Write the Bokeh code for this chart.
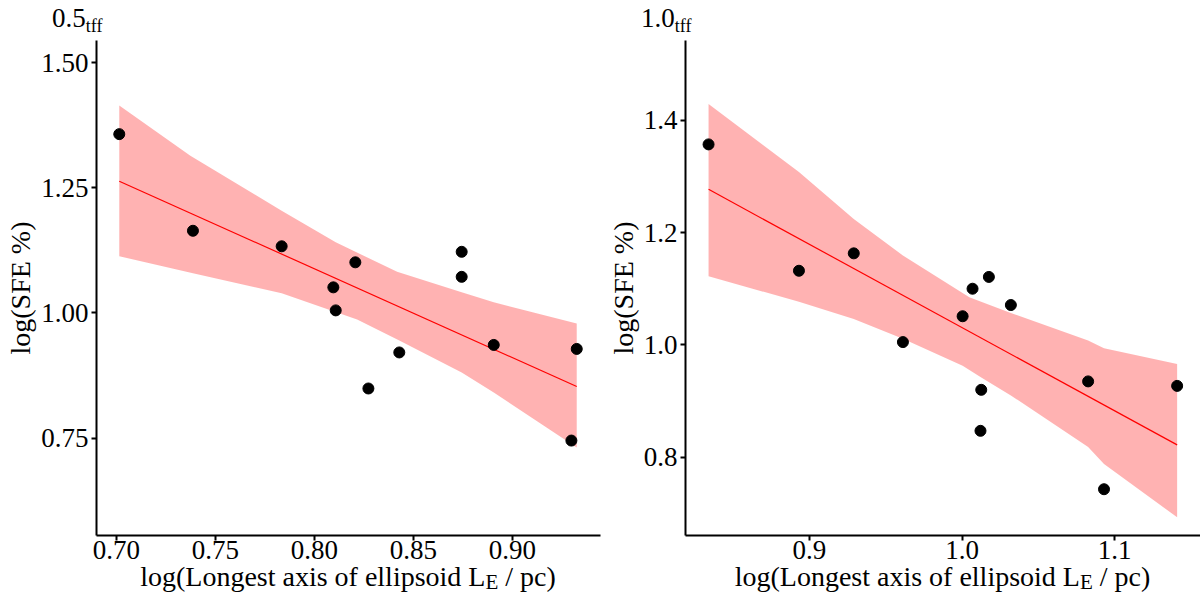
from bokeh.plotting import figure
from bokeh.models import Range1d, FixedTicker, PrintfTickFormatter, Div
from bokeh.layouts import row, column
from bokeh.embed import file_html
from bokeh.resources import INLINE

# ---------------- data ----------------
titles = ["0.5", "1.0"]
title_sub = "tff"
x_label_main = "log(Longest axis of ellipsoid L"
x_label_sub = "E"
x_label_tail = " / pc)"
y_label = "log(SFE %)"

# left panel (0.5 tff)
left_x = [0.7015, 0.7387, 0.7835, 0.8207, 0.8096, 0.8108, 0.8273, 0.8429, 0.8744, 0.8744, 0.8906, 0.9325, 0.9298]
left_y = [1.357, 1.164, 1.133, 1.101, 1.051, 1.005, 0.849, 0.921, 1.122, 1.072, 0.936, 0.928, 0.745]
left_fit_x = [0.7015, 0.9325]
left_fit_y = [1.263, 0.853]
left_up_x = [0.7015, 0.7374, 0.7835, 0.8108, 0.8418, 0.8744, 0.8906, 0.9325]
left_up_y = [1.414, 1.314, 1.204, 1.141, 1.082, 1.041, 1.021, 0.979]
left_lo_x = [0.7015, 0.7387, 0.7835, 0.8216, 0.8429, 0.8744, 0.8906, 0.9325]
left_lo_y = [1.113, 1.079, 1.039, 0.987, 0.945, 0.881, 0.841, 0.731]
left_xticks = [0.70, 0.75, 0.80, 0.85, 0.90]
left_yticks = [0.75, 1.00, 1.25, 1.50]

# right panel (1.0 tff)
right_x = [0.834, 0.8932, 0.9291, 0.9613, 1.0004, 1.0069, 1.0176, 1.032, 1.0126, 1.0121, 1.0826, 1.093, 1.1409]
right_y = [1.357, 1.132, 1.163, 1.005, 1.051, 1.100, 1.121, 1.071, 0.920, 0.847, 0.935, 0.743, 0.927]
right_fit_x = [0.834, 1.1409]
right_fit_y = [1.277, 0.822]
right_up_x = [0.834, 0.8932, 0.9291, 0.9613, 1.0048, 1.0134, 1.032, 1.0826, 1.093, 1.1409]
right_up_y = [1.429, 1.308, 1.224, 1.159, 1.085, 1.076, 1.057, 1.008, 0.994, 0.966]
right_lo_x = [0.834, 0.8932, 0.9291, 0.9613, 1.0004, 1.0126, 1.032, 1.0826, 1.093, 1.1409]
right_lo_y = [1.122, 1.077, 1.046, 1.011, 0.963, 0.942, 0.910, 0.818, 0.788, 0.693]
right_xticks = [0.9, 1.0, 1.1]
right_yticks = [0.8, 1.0, 1.2, 1.4]

FONT = "Liberation Serif"
TICK_PX = 27
LAB_PX = 28
XLAB_PX = 28
TOTAL_H = 595
TITLE_H = 36
XLAB_H = 32
OVERLAP = 8
FIG_H = TOTAL_H - TITLE_H - XLAB_H + OVERLAP   # 535


def title_div(width, pad_left, title):
    html = (f'<div style="font-family:\'{FONT}\';font-size:{TICK_PX}px;line-height:{TITLE_H}px;'
            f'color:black;white-space:nowrap;padding-left:{pad_left}px;margin:0;">'
            f'{title}<span style="font-size:18px;position:relative;top:5px;">{title_sub}</span></div>')
    return Div(text=html, width=width, height=TITLE_H, margin=(0, 0, 0, 0))


def xlabel_div(width, frame_left, frame_w):
    html = (f'<div style="font-family:\'{FONT}\';font-size:{XLAB_PX}px;line-height:{XLAB_H}px;'
            f'color:black;white-space:nowrap;text-align:center;margin:0 0 0 {frame_left}px;'
            f'width:{frame_w}px;position:relative;top:-2px;">'
            f'{x_label_main}<span style="font-size:21px;position:relative;top:3px;">{x_label_sub}</span>'
            f'{x_label_tail}</div>')
    return Div(text=html, width=width, height=XLAB_H, margin=(-OVERLAP, 0, 0, 0))


def panel(width, border_left, border_right, xr, yr, xt, yt, fmt_x, fmt_y,
          px, py, fx, fy, ux, uy, lx, ly):
    p = figure(width=width, height=FIG_H, output_backend="svg", toolbar_location=None,
               x_range=Range1d(*xr), y_range=Range1d(*yr),
               min_border_left=border_left, min_border_right=border_right,
               min_border_top=4, min_border_bottom=36)
    p.outline_line_color = None
    p.grid.visible = False
    p.background_fill_color = "white"
    p.border_fill_color = "white"

    for ax, ticks, fmt in ((p.xaxis[0], xt, fmt_x), (p.yaxis[0], yt, fmt_y)):
        ax.ticker = FixedTicker(ticks=ticks)
        ax.formatter = PrintfTickFormatter(format=fmt)
        ax.axis_line_color = "black"
        ax.axis_line_width = 2
        ax.major_tick_line_color = "black"
        ax.major_tick_line_width = 2
        ax.major_tick_out = 5
        ax.major_tick_in = 0
        ax.minor_tick_line_color = None
        ax.major_label_text_font = FONT
        ax.major_label_text_font_size = f"{TICK_PX}px"
        ax.major_label_text_color = "black"
        ax.major_label_standoff = 3
    p.xaxis.major_label_standoff = 0

    p.yaxis.axis_label = y_label
    p.yaxis.axis_label_text_font = FONT
    p.yaxis.axis_label_text_font_size = f"{LAB_PX}px"
    p.yaxis.axis_label_text_font_style = "normal"
    p.yaxis.axis_label_text_color = "black"
    p.yaxis.axis_label_standoff = 2

    poly_x = list(ux) + list(reversed(lx))
    poly_y = list(uy) + list(reversed(ly))
    p.patch(poly_x, poly_y, fill_color="red", fill_alpha=0.3, line_color=None)
    p.line(fx, fy, line_color="red", line_width=1.2)
    p.scatter(px, py, size=11, fill_color="black", line_color="black")
    return p


LW, RW = 603, 597
p1 = panel(LW, 96, 3, (0.690, 0.9445), (0.5554, 1.544), left_xticks, left_yticks, "%.2f", "%.2f",
           left_x, left_y, left_fit_x, left_fit_y, left_up_x, left_up_y, left_lo_x, left_lo_y)
p2 = panel(RW, 82, 0, (0.8189, 1.1562), (0.6606, 1.542), right_xticks, right_yticks, "%.1f", "%.1f",
           right_x, right_y, right_fit_x, right_fit_y, right_up_x, right_up_y, right_lo_x, right_lo_y)

col1 = column(title_div(LW, 52, titles[0]), p1, xlabel_div(LW, 96, LW - 96 - 3), spacing=0)
col2 = column(title_div(RW, 38, titles[1]), p2, xlabel_div(RW, 82, RW - 82), spacing=0)
layout = row(col1, col2, spacing=0)
with open("out.html", "w") as f:
    f.write(file_html(layout, INLINE))
